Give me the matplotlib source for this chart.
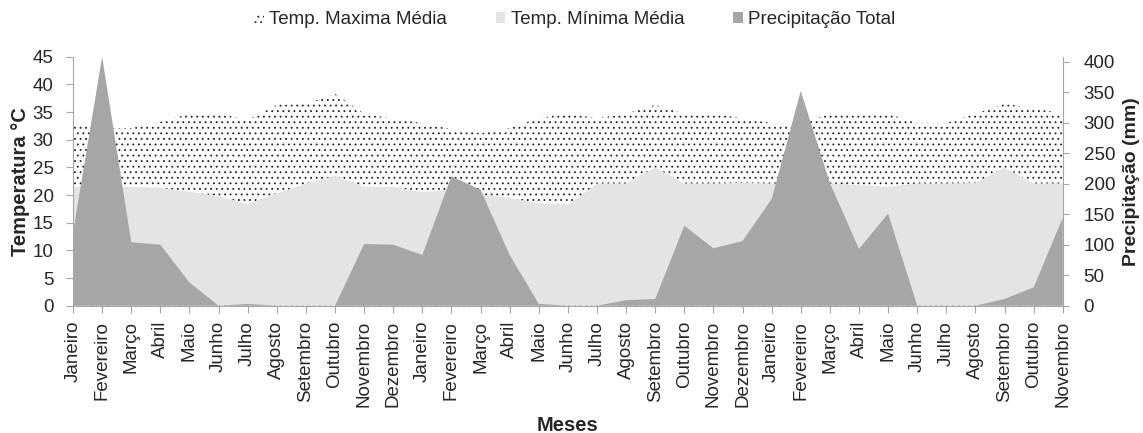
import numpy as np
import matplotlib
matplotlib.use("Agg")
import matplotlib.pyplot as plt
from matplotlib.patches import Patch

plt.rcParams["font.family"] = ["Liberation Sans", "DejaVu Sans"]
plt.rcParams["hatch.linewidth"] = 0.6

meses = ["Janeiro", "Fevereiro", "Março", "Abril", "Maio", "Junho", "Julho",
         "Agosto", "Setembro", "Outubro", "Novembro", "Dezembro"]
rotulos = (meses * 3)[:35]

# temperaturas medias (°C)
temp_max = [33.0, 32.0, 32.1, 33.2, 34.7, 34.7, 33.6, 36.3, 36.5, 38.3, 34.7, 33.8,
            33.0, 31.9, 31.2, 32.1, 33.9, 34.7, 33.9, 34.7, 36.3, 34.7, 34.7, 33.9,
            33.0, 33.0, 34.7, 34.7, 34.7, 33.0, 33.0, 34.7, 36.5, 35.7, 34.7]
temp_min = [21.5, 21.5, 21.5, 21.3, 20.6, 19.8, 18.4, 20.3, 22.1, 23.5, 21.5, 21.5,
            20.5, 21.0, 20.1, 19.5, 18.5, 18.2, 22.1, 22.1, 25.0, 22.1, 22.1, 22.2,
            22.1, 22.1, 22.1, 21.8, 21.5, 22.1, 22.1, 22.2, 25.0, 22.1, 22.1]
# precipitacao total (mm)
precip = [120, 408, 104, 100, 38, 0, 3, 0, 0, 0, 101, 100,
          83, 212, 190, 83, 3, 0, 0, 9, 11, 131, 94, 106,
          175, 352, 201, 93, 151, 0, 0, 0, 11, 30, 144]

x = np.arange(len(rotulos))
cinza = "#A6A6A6"
texto = "#262626"
fs = 13.5

fig = plt.figure(figsize=(11.43, 4.33), dpi=100)
ax = fig.add_axes([0.0639, 0.294, 0.8659, 0.575])

ax.fill_between(x, 0, temp_max, facecolor="white", edgecolor="#202020",
                hatch="...", linewidth=0, label="Temp. Maxima Média")
ax.fill_between(x, 0, temp_min, facecolor="#E4E4E4", linewidth=0,
                label="Temp. Mínima Média")
ax.set_ylim(0, 45)
ax.set_yticks(np.arange(0, 46, 5))
ax.set_xlim(0, len(x) - 1)
ax.set_xticks(x)
ax.set_xticklabels(rotulos, rotation=90, fontsize=fs, color=texto)
ax.tick_params(axis="y", labelsize=fs, colors=cinza, labelcolor=texto, length=5, pad=9)
ax.tick_params(axis="x", colors=cinza, labelcolor=texto, length=5, pad=6)
ax.set_ylabel("Temperatura °C", fontsize=14.5, fontweight="bold", color=texto, labelpad=2)
ax.set_xlabel("Meses", fontsize=14.5, fontweight="bold", color=texto, labelpad=6)
for s in ["top", "right"]:
    ax.spines[s].set_visible(False)
for s in ["left", "bottom"]:
    ax.spines[s].set_color(cinza)

ax2 = ax.twinx()
ax2.fill_between(x, 0, precip, facecolor=cinza, linewidth=0,
                 label="Precipitação Total")
ax2.set_ylim(0, 408)
ax2.set_yticks(np.arange(0, 401, 50))
ax2.tick_params(axis="y", labelsize=fs, colors=cinza, labelcolor=texto, length=4, pad=11)
ax2.set_ylabel("Precipitação (mm)", fontsize=14, fontweight="bold", color=texto, labelpad=6)
for s in ["top", "left", "bottom"]:
    ax2.spines[s].set_visible(False)
ax2.spines["right"].set_color(cinza)

handles = [Patch(facecolor="white", edgecolor="#202020", hatch="...", linewidth=0),
           Patch(facecolor="#E4E4E4", linewidth=0),
           Patch(facecolor=cinza, linewidth=0)]
labels = ["Temp. Maxima Média", "Temp. Mínima Média", "Precipitação Total"]
fig.legend(handles, labels, loc="center", bbox_to_anchor=(0.503, 0.955), ncol=3,
           frameon=False, fontsize=fs, handlelength=0.5, handleheight=0.5,
           handletextpad=0.3, columnspacing=2.6, labelcolor=texto)

fig.savefig("out.png", dpi=100)
